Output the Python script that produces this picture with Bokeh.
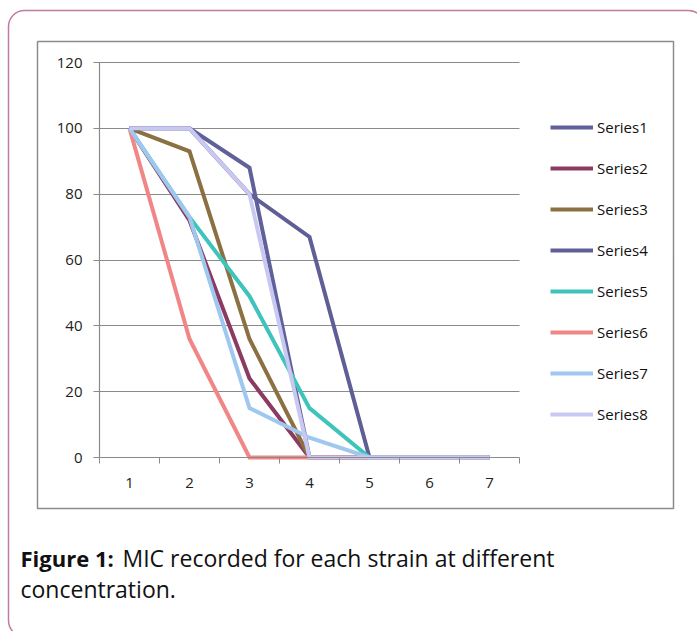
from bokeh.plotting import figure
from bokeh.models import (FixedTicker, Legend, LegendItem, Label, BoxAnnotation,
                          Range1d, LinearAxis, Grid)
from bokeh.embed import file_html
from bokeh.resources import INLINE

# ---- data ----
concentration = [1, 2, 3, 4, 5, 6, 7]
series_names = ["Series1", "Series2", "Series3", "Series4",
                "Series5", "Series6", "Series7", "Series8"]
series1 = [100, 100, 88, 0, 0, 0, 0]
series2 = [100, 72, 24, 0, 0, 0, 0]
series3 = [100, 93, 36, 0, 0, 0, 0]
series4 = [100, 100, 80, 67, 0, 0, 0]
series5 = [100, 73, 49, 15, 0, 0, 0]
series6 = [100, 36, 0, 0, 0, 0, 0]
series7 = [100, 73, 15, 6, 0, 0, 0]
series8 = [100, 100, 80, 0, 0, 0, 0]
y_ticks = [0, 20, 40, 60, 80, 100, 120]
colors = ["#60609a", "#8b3a62", "#8b7042", "#5f5f96",
          "#3fc4bc", "#f08686", "#9ec8f0", "#c8c8f2"]
all_series = [series1, series2, series3, series4,
              series5, series6, series7, series8]

FONT = "Open Sans"
W, H = 697, 631
# pixel placement of the plotting area inside the page
PX_LEFT, PX_RIGHT, PX_TOP, PX_BOTTOM = 99, 519, 62, 457
X0, X1 = 0.5, 7.5
Y0, Y1 = 0, 120
xs = (PX_RIGHT - PX_LEFT) / (X1 - X0)
ys = (PX_BOTTOM - PX_TOP) / (Y1 - Y0)
x_range = Range1d(X0 - PX_LEFT / xs, X1 + (W - PX_RIGHT) / xs)
y_range = Range1d(Y0 - (H - PX_BOTTOM) / ys, Y1 + PX_TOP / ys)

p = figure(width=W, height=H, output_backend="svg", toolbar_location=None,
           x_range=x_range, y_range=y_range, x_axis_type=None, y_axis_type=None,
           min_border=0, background_fill_color="white",
           border_fill_color="white")
p.outline_line_color = None
p.grid.visible = False

AX_COL = "#8a8a8a"

xaxis = LinearAxis(fixed_location=Y0, bounds=(X0, X1),
                   ticker=FixedTicker(ticks=concentration,
                                      minor_ticks=[c - 0.5 for c in concentration] + [7.5]))
xaxis.major_tick_out = 0
xaxis.major_tick_in = 0
xaxis.minor_tick_out = 6
xaxis.minor_tick_in = 0
xaxis.minor_tick_line_color = AX_COL
xaxis.major_label_standoff = 14

yaxis = LinearAxis(fixed_location=X0, bounds=(Y0, Y1),
                   ticker=FixedTicker(ticks=y_ticks))
yaxis.major_tick_out = 6
yaxis.major_tick_in = 0
yaxis.minor_tick_line_color = None
yaxis.major_label_standoff = 11

for ax in (xaxis, yaxis):
    ax.axis_line_color = AX_COL
    ax.axis_line_width = 1.2
    ax.major_tick_line_color = AX_COL
    ax.major_label_text_font = FONT
    ax.major_label_text_font_size = "15px"
    ax.major_label_text_color = "#222222"
p.add_layout(xaxis, "below")
p.add_layout(yaxis, "left")

# horizontal grid lines limited to the plotting area
if "cross_bounds" in Grid.properties():
    grid = Grid(dimension=1, ticker=FixedTicker(ticks=y_ticks[1:]),
                cross_bounds=(X0, X1), grid_line_color=AX_COL,
                grid_line_width=1.2)
    p.add_layout(grid)
else:
    p.segment(x0=[X0] * (len(y_ticks) - 1), x1=[X1] * (len(y_ticks) - 1),
              y0=y_ticks[1:], y1=y_ticks[1:], line_color=AX_COL,
              line_width=1.2)

items = []
for name, yv, col in zip(series_names, all_series, colors):
    r = p.line(concentration, yv, line_color=col, line_width=4,
               line_join="miter")
    items.append(LegendItem(label=name, renderers=[r]))

legend = Legend(items=items, location=(550, 207), orientation="vertical",
                glyph_width=43, glyph_height=20, label_height=20, spacing=21,
                padding=0, margin=0, label_standoff=4,
                label_text_font=FONT, label_text_font_size="15px",
                label_text_color="#111111",
                background_fill_alpha=0, border_line_color=None)
p.add_layout(legend, "center")

# chart-area box and outer card border (screen units, origin bottom-left)
inner = BoxAnnotation(left=37, right=673, top=H - 41, bottom=H - 508,
                      left_units="screen", right_units="screen",
                      top_units="screen", bottom_units="screen",
                      fill_alpha=0, line_color="#8c8c8c", line_alpha=1.0,
                      line_width=1.5)
outer = BoxAnnotation(left=8, right=704, top=H - 10, bottom=-5,
                      left_units="screen", right_units="screen",
                      top_units="screen", bottom_units="screen",
                      fill_alpha=0, line_color="#c27ba0", line_alpha=1.0,
                      line_width=1.5, border_radius=16)
p.add_layout(inner)
p.add_layout(outer)

# caption
cap_bold = Label(x=20, y=H - 557, x_units="screen", y_units="screen",
                 text="Figure 1:", text_font=FONT, text_font_size="22px",
                 text_font_style="bold", text_color="#111111",
                 text_baseline="alphabetic")
cap1 = Label(x=122, y=H - 557, x_units="screen", y_units="screen",
             text="MIC recorded for each strain at different", text_font=FONT,
             text_font_size="23px", text_color="#111111",
             text_baseline="alphabetic")
cap2 = Label(x=20, y=H - 588, x_units="screen", y_units="screen",
             text="concentration.", text_font=FONT,
             text_font_size="23px", text_color="#111111",
             text_baseline="alphabetic")
for lab in (cap_bold, cap1, cap2):
    p.add_layout(lab)

open("out.html", "w").write(file_html(p, INLINE))
